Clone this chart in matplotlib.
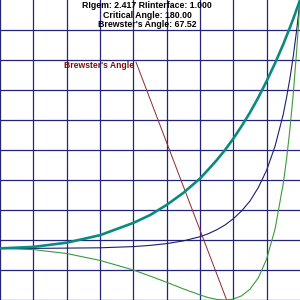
import matplotlib
matplotlib.use("Agg")
import matplotlib.pyplot as plt

# angle of incidence (deg) and reflectances
angles = [0, 10, 20, 30, 40, 45, 50, 55, 60, 62.5, 65, 67.5, 70, 72.5,
          75, 77.5, 80, 82.5, 85, 86, 87, 88, 89, 89.5, 90]
r_s = [0.172, 0.177, 0.191, 0.216, 0.257, 0.283, 0.317, 0.357, 0.405, 0.435,
       0.466, 0.500, 0.538, 0.580, 0.625, 0.675, 0.730, 0.789, 0.853, 0.881,
       0.909, 0.938, 0.969, 0.984, 1.0]
r_p = [0.172, 0.168, 0.155, 0.132, 0.100, 0.080, 0.059, 0.037, 0.017, 0.008,
       0.002, 0.000, 0.003, 0.014, 0.036, 0.074, 0.137, 0.236, 0.390, 0.473,
       0.572, 0.690, 0.831, 0.911, 1.0]
r_avg = [0.172, 0.172, 0.173, 0.174, 0.178, 0.182, 0.188, 0.197, 0.211, 0.221,
         0.234, 0.250, 0.271, 0.297, 0.330, 0.375, 0.433, 0.512, 0.620, 0.677,
         0.740, 0.814, 0.900, 0.948, 1.0]

brewster_line_x = [40.8, 68.0]
brewster_line_y = [0.793, 0.0]

grid_x = [0, 10, 20, 30, 40, 50, 60, 70, 80]
grid_y = [0, 0.1, 0.2, 0.3, 0.4, 0.5, 0.6, 0.7, 0.8, 0.9]

title_lines = ["RIgem: 2.417 RIinterface: 1.000",
               "Critical Angle: 180.00",
               "Brewster's Angle: 67.52"]

FONT = ["Liberation Sans", "DejaVu Sans"]

fig = plt.figure(figsize=(3, 3), dpi=100)
ax = fig.add_axes([0, 0, 1, 1])
ax.set_xlim(0, 90)
ax.set_ylim(0, 1)
ax.axis("off")

grid_col = "#24247c"
for gx in grid_x:
    ax.axvline(gx, color=grid_col, lw=0.9, zorder=1)
for gy in grid_y:
    ax.axhline(gy, color=grid_col, lw=0.9, zorder=1)

ax.plot(angles, r_avg, color="#1e1e6e", lw=0.8, zorder=3)
ax.plot(angles, r_p, color="#3c9a3c", lw=0.8, zorder=3)
ax.plot(angles, r_s, color="#0a8a80", lw=1.9, zorder=4)
ax.plot(brewster_line_x, brewster_line_y, color="#8b2a2a", lw=0.7, zorder=2)

ax.text(40.2, 0.783, "Brewster's Angle", color="#7a1010", ha="right",
        va="center", fontsize=6.2, fontweight="bold", family=FONT)

for i, line in enumerate(title_lines):
    ax.text(0.49, 1 - (5.5 + 9.5 * i) / 300, line, transform=ax.transAxes,
            ha="center", va="center", fontsize=6.3, fontweight="bold",
            family=FONT, color="black", zorder=5)

fig.savefig("out.png", dpi=100)
